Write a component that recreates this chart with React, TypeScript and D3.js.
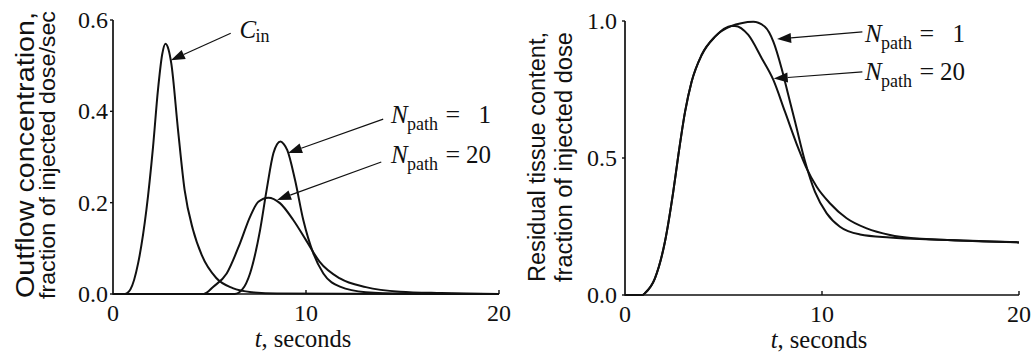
import React from 'react';
import * as d3 from 'd3';

// Time axis shared by both panels (seconds)
const timeTicks = [0, 10, 20];
const outflowTicks = [0, 0.2, 0.4, 0.6];
const residueTicks = [0, 0.5, 1.0];

// Left panel: inflow concentration C_in and outflow curves, fraction of dose per second
const cinTime = [0, 0.6, 0.9, 1.3, 1.73, 2.07, 2.33, 2.55, 2.72, 2.88, 3.02, 3.37, 3.71, 4.15, 4.6, 5.35, 6.2, 7.2, 8.5, 20];
const cinValue = [0, 0, 0.01, 0.067, 0.184, 0.32, 0.447, 0.525, 0.548, 0.535, 0.505, 0.359, 0.228, 0.14, 0.085, 0.035, 0.013, 0.004, 0.001, 0];

const outflow1Time = [0, 6.3, 6.7, 7.1, 7.62, 7.96, 8.31, 8.5, 8.68, 8.85, 9.03, 9.43, 9.86, 10.38, 10.9, 11.76, 13.1, 15, 20];
const outflow1Value = [0, 0, 0.01, 0.045, 0.14, 0.228, 0.308, 0.328, 0.334, 0.328, 0.315, 0.25, 0.162, 0.089, 0.045, 0.016, 0.004, 0.001, 0];

const outflow20Time = [0, 4.7, 5.2, 5.89, 6.58, 7.1, 7.53, 8.05, 8.65, 9.34, 10.0, 10.7, 11.76, 13.1, 14.87, 17, 20];
const outflow20Value = [0, 0, 0.016, 0.045, 0.111, 0.169, 0.202, 0.211, 0.199, 0.162, 0.118, 0.071, 0.034, 0.015, 0.005, 0.002, 0];

// Right panel: residual tissue content, fraction of injected dose
const residue1Time = [0, 0.9, 1.0, 1.52, 2.03, 2.45, 2.71, 3.05, 3.38, 3.89, 4.57, 5.41, 5.9, 6.51, 7.1, 7.53, 7.95, 8.29, 8.63, 9.14, 9.64, 10.24, 10.91, 11.93, 13.45, 16, 20];
const residue1Value = [0, 0, 0.006, 0.061, 0.195, 0.377, 0.511, 0.669, 0.778, 0.876, 0.943, 0.982, 0.992, 0.997, 0.979, 0.925, 0.827, 0.73, 0.633, 0.487, 0.377, 0.298, 0.249, 0.221, 0.21, 0.202, 0.192];

const residue20Time = [0, 0.9, 1.0, 1.52, 2.03, 2.45, 2.71, 3.05, 3.38, 3.89, 4.57, 5.41, 5.58, 6.26, 6.94, 7.53, 8.12, 8.8, 9.22, 9.73, 10.4, 11.25, 12.27, 13.45, 14.63, 16, 20];
const residue20Value = [0, 0, 0.006, 0.061, 0.195, 0.377, 0.511, 0.669, 0.778, 0.876, 0.943, 0.982, 0.982, 0.949, 0.864, 0.785, 0.669, 0.535, 0.462, 0.395, 0.335, 0.28, 0.243, 0.219, 0.207, 0.202, 0.192];

// Callouts: arrow tail and tip in data units, label anchor in data units
const outflowNotes = [
  { main: 'C', sub: 'in', value: '', tail: [6.1, 0.571], tip: [3.0, 0.512], label: [6.55, 0.56] },
  { main: 'N', sub: 'path', value: '1', tail: [14.0, 0.383], tip: [9.07, 0.309], label: [14.4, 0.374] },
  { main: 'N', sub: 'path', value: '20', tail: [13.9, 0.289], tip: [8.5, 0.206], label: [14.4, 0.287] },
];
const residueNotes = [
  { main: 'N', sub: 'path', value: '1', tail: [12.05, 0.96], tip: [7.72, 0.934], label: [12.18, 0.923] },
  { main: 'N', sub: 'path', value: '20', tail: [12.05, 0.814], tip: [7.55, 0.79], label: [12.18, 0.785] },
];

const SERIF = '"Liberation Serif", "Times New Roman", serif';
const SANS = '"Liberation Sans", Arial, sans-serif';

type Note = { main: string; sub: string; value: string; tail: number[]; tip: number[]; label: number[] };

type PanelProps = {
  left: number;
  right: number;
  top: number;
  bottom: number;
  yMax: number;
  yTicks: number[];
  curves: { t: number[]; v: number[] }[];
  notes: Note[];
  title: string[];
  titleX: number[];
  titleY: number;
  titleLen: number[];
  titleSize: number[];
  labelGap: number;
};

function Panel(p: PanelProps) {
  const x = d3.scaleLinear().domain([0, 20]).range([p.left, p.right]);
  const y = d3.scaleLinear().domain([0, p.yMax]).range([p.bottom, p.top]);
  const line = d3
    .line<[number, number]>()
    .x((d) => x(d[0]))
    .y((d) => y(d[1]))
    .curve(d3.curveMonotoneX);
  const fmt = d3.format('.1f');

  return (
    <g>
      {/* curves */}
      {p.curves.map((c, i) => (
        <path
          key={i}
          d={line(c.t.map((t, k) => [t, c.v[k]] as [number, number])) || ''}
          fill="none"
          stroke="#111"
          strokeWidth={2}
          strokeLinejoin="round"
        />
      ))}

      {/* axes */}
      <path
        d={`M${x(0)},${y(p.yMax)} V${y(0)} H${x(20)}`}
        fill="none"
        stroke="#111"
        strokeWidth={1.7}
      />
      {p.yTicks.map((v) => (
        <g key={'y' + v}>
          <line x1={x(0) - 3} x2={x(0)} y1={y(v)} y2={y(v)} stroke="#111" strokeWidth={1.4} />
          <text
            x={x(0) - p.labelGap}
            y={y(v) + 8}
            textAnchor="end"
            fontFamily={SERIF}
            fontSize={24}
            fill="#111"
          >
            {fmt(v)}
          </text>
        </g>
      ))}
      {timeTicks.map((t) => (
        <g key={'x' + t}>
          {t > 0 && <line x1={x(t)} x2={x(t)} y1={y(0)} y2={y(0) - 4} stroke="#111" strokeWidth={1.4} />}
          <text x={x(t)} y={y(0) + 27} textAnchor="middle" fontFamily={SERIF} fontSize={24} fill="#111">
            {t}
          </text>
        </g>
      ))}
      <text
        x={(x(0) + x(20)) / 2 - 3}
        y={y(0) + 53}
        textAnchor="middle"
        fontFamily={SERIF}
        fontSize={24.5}
        fill="#111"
      >
        <tspan fontStyle="italic">t</tspan>, seconds
      </text>

      {/* axis title */}
      {p.title.map((s, i) => (
        <text
          key={s}
          transform={`translate(${p.titleX[i]},${p.titleY}) rotate(-90)`}
          textAnchor="middle"
          fontFamily={SANS}
          fontSize={p.titleSize[i]}
          textLength={p.titleLen[i]}
          lengthAdjust="spacingAndGlyphs"
          fill="#111"
        >
          {s}
        </text>
      ))}

      {/* callouts */}
      {p.notes.map((n, i) => {
        const tx = x(n.tip[0]);
        const ty = y(n.tip[1]);
        const sx = x(n.tail[0]);
        const sy = y(n.tail[1]);
        const ang = Math.atan2(sy - ty, sx - tx);
        const len = 14;
        const half = 5;
        const bx = tx + Math.cos(ang) * len;
        const by = ty + Math.sin(ang) * len;
        const nx = -Math.sin(ang) * half;
        const ny = Math.cos(ang) * half;
        const lx = x(n.label[0]);
        const ly = y(n.label[1]);
        return (
          <g key={'n' + i}>
            <line x1={sx} y1={sy} x2={bx} y2={by} stroke="#111" strokeWidth={1.2} />
            <polygon points={`${tx},${ty} ${bx + nx},${by + ny} ${bx - nx},${by - ny}`} fill="#111" />
            <text x={lx} y={ly} fontFamily={SERIF} fontSize={25} fill="#111">
              <tspan fontStyle="italic">{n.main}</tspan>
            </text>
            <text x={lx + 16} y={ly + (n.value ? 7 : 4)} fontFamily={SERIF} fontSize={18} fill="#111">
              {n.sub}
            </text>
            {n.value && (
              <>
                <text x={lx + 62} y={ly} textAnchor="middle" fontFamily={SERIF} fontSize={26} fill="#111">
                  =
                </text>
                <text x={lx + 100} y={ly} textAnchor="end" fontFamily={SERIF} fontSize={25} fill="#111">
                  {n.value}
                </text>
              </>
            )}
          </g>
        );
      })}
    </g>
  );
}

export default function App() {
  return (
    <svg
      width={1032}
      height={356}
      viewBox="0 0 1032 356"
      style={{ position: 'absolute', left: 0, top: 0, background: '#fff' }}
    >
      <rect width={1032} height={356} fill="#fff" />
      <Panel
        left={113}
        right={499}
        top={20}
        bottom={294}
        yMax={0.6}
        yTicks={outflowTicks}
        curves={[
          { t: cinTime, v: cinValue },
          { t: outflow1Time, v: outflow1Value },
          { t: outflow20Time, v: outflow20Value },
        ]}
        notes={outflowNotes}
        title={['Outflow concentration,', 'fraction of injected dose/sec']}
        titleX={[34, 55]}
        titleY={155}
        titleLen={[286, 288]}
        titleSize={[25, 22.5]}
        labelGap={5}
      />
      <Panel
        left={625}
        right={1019}
        top={21}
        bottom={295}
        yMax={1.0}
        yTicks={residueTicks}
        curves={[
          { t: residue1Time, v: residue1Value },
          { t: residue20Time, v: residue20Value },
        ]}
        notes={residueNotes}
        title={['Residual tissue content,', 'fraction of injected dose']}
        titleX={[545, 572]}
        titleY={157}
        titleLen={[250, 250]}
        titleSize={[23.5, 23.5]}
        labelGap={8}
      />
    </svg>
  );
}
